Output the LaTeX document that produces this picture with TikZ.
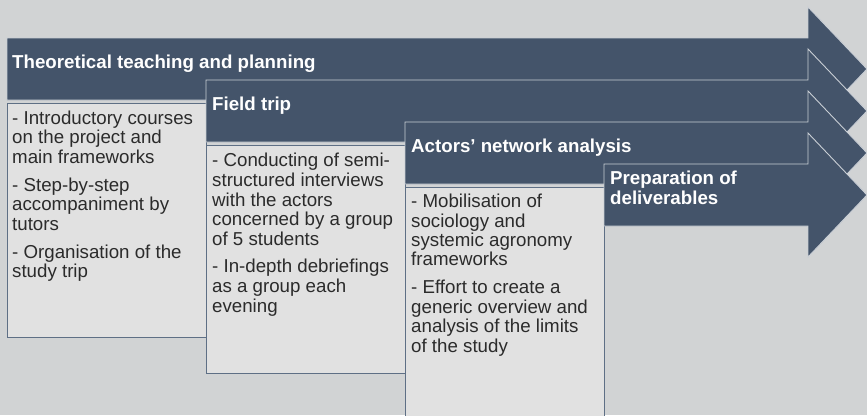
\documentclass[tikz,border=0pt]{standalone}
\usepackage{fontspec}
\setmainfont{Liberation Sans}
\definecolor{bg}{HTML}{D1D3D4}
\definecolor{slate}{HTML}{44546A}
\definecolor{boxfill}{HTML}{E1E1E1}
\definecolor{boxline}{HTML}{5E6F85}
\definecolor{arrline}{HTML}{C9CED5}
\definecolor{txt}{HTML}{2B2B2B}
\begin{document}
\begin{tikzpicture}[x=1pt,y=-1pt,
 arrowshape/.style={fill=slate, draw=arrline, line width=0.9pt, line join=miter},
 infobox/.style={fill=boxfill, draw=boxline, line width=0.9pt},
 headtext/.style={anchor=base west, inner sep=0pt, text=white, font=\fontsize{18.7}{20}\selectfont\bfseries, align=left},
 bodytext/.style={anchor=base west, inner sep=0pt, text=txt, font=\fontsize{18.7}{19.4}\selectfont, align=left}]
% note: for multi-line nodes the base anchor is the baseline of the last line
\useasboundingbox (0,0) rectangle (867,415);
\fill[bg] (0,0) rectangle (867,415);
% arrow 1
\draw[arrowshape] (7,38) -- (808,38) -- (808,7) -- (867,69) -- (808,131) -- (808,100) -- (7,100) -- cycle;
\node[headtext] (h1) at (12,68.5) {Theoretical teaching and planning};
\draw[infobox] (7,103) rectangle (206,337);
\node[bodytext] (t1) at (12,277.5) {- Introductory courses\\on the project and\\main frameworks\\[8.6pt]- Step-by-step\\accompaniment by\\tutors\\[8.6pt]- Organisation of the\\study trip};
% arrow 2
\draw[arrowshape] (206,80) -- (808,80) -- (808,49) -- (867,111) -- (808,173) -- (808,142) -- (206,142) -- cycle;
\node[headtext] (h2) at (212,110) {Field trip};
\draw[infobox] (206,145) rectangle (405,373);
\node[bodytext, font=\fontsize{18.7}{19.7}\selectfont] (t2) at (212,312) {- Conducting of semi-\\structured interviews\\with the actors\\concerned by a group\\of 5 students\\[7.5pt]- In-depth debriefings\\as a group each\\evening};
% arrow 3
\draw[arrowshape] (405,122) -- (808,122) -- (808,91) -- (867,153) -- (808,215) -- (808,184) -- (405,184) -- cycle;
\node[headtext] (h3) at (411,152) {Actors’ network analysis};
\fill[boxfill] (405,187) rectangle (604,416);
\draw[boxline, line width=0.9pt] (405,416) -- (405,187) -- (604,187) -- (604,416);
\node[bodytext] (t3) at (411,352) {- Mobilisation of\\sociology and\\systemic agronomy\\frameworks\\[8.6pt]- Effort to create a\\generic overview and\\analysis of the limits\\of the study};
% arrow 4
\draw[arrowshape] (604,164) -- (808,164) -- (808,133) -- (867,195) -- (808,257) -- (808,226) -- (604,226) -- cycle;
\node[headtext] (h4) at (610,204) {Preparation of\\deliverables};
\end{tikzpicture}
\end{document}
